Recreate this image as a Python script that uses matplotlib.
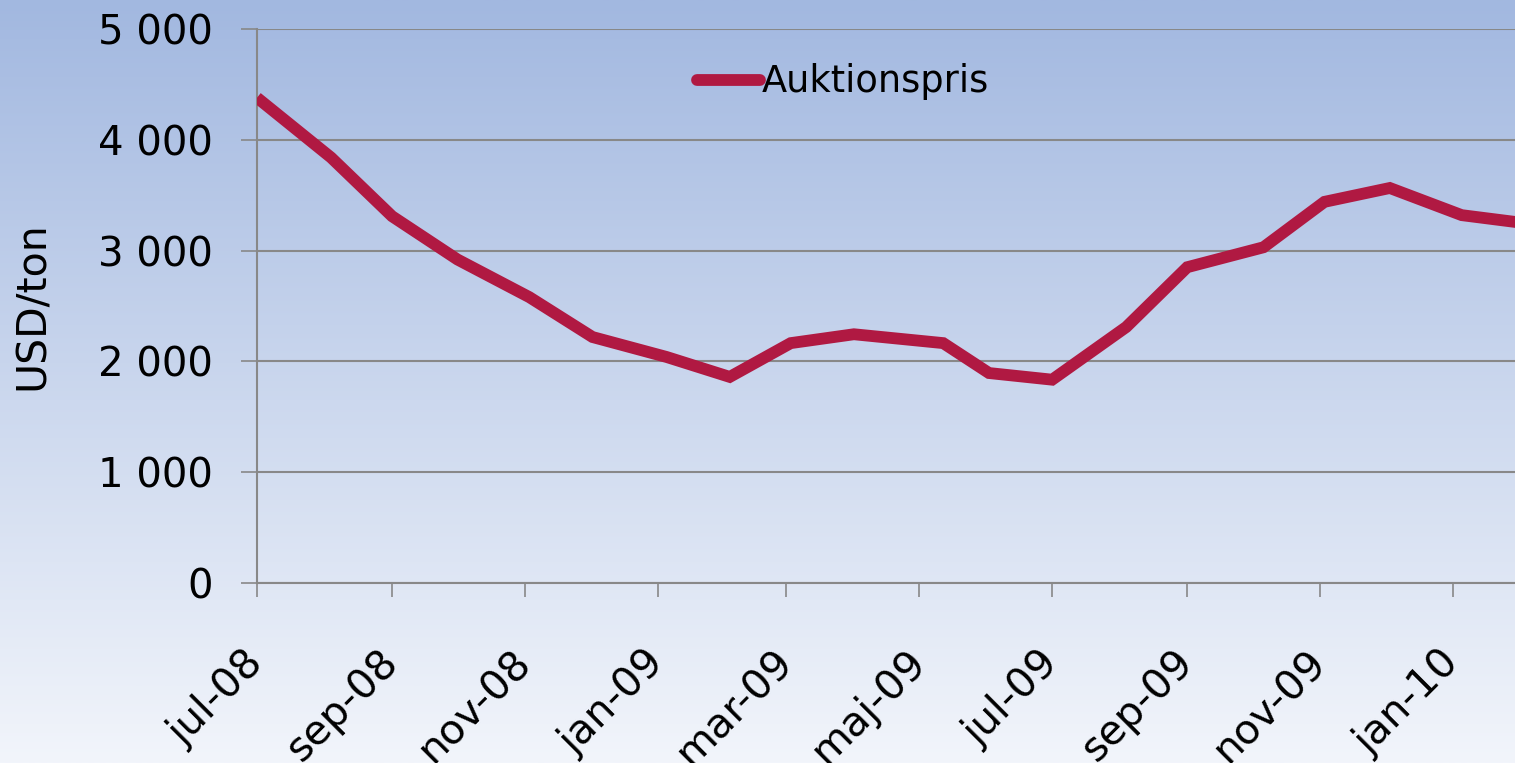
import matplotlib
matplotlib.use('Agg')
import matplotlib.pyplot as plt
import numpy as np
import datetime as dt

# auction dates and prices
dates = ['2008-07-01', '2008-08-04', '2008-09-01', '2008-10-01', '2008-11-03',
         '2008-12-02', '2009-01-05', '2009-02-03', '2009-03-03', '2009-04-01',
         '2009-05-12', '2009-06-02', '2009-07-01', '2009-08-04', '2009-09-01',
         '2009-10-06', '2009-11-03', '2009-12-03', '2010-01-05', '2010-02-02']
prices = [4380, 3840, 3310, 2920, 2580,
          2220, 2040, 1860, 2165, 2245,
          2165, 1895, 1835, 2310, 2850,
          3030, 3440, 3565, 3320, 3250]
tick_dates = ['2008-07-01', '2008-09-01', '2008-11-01', '2009-01-01', '2009-03-01',
              '2009-05-01', '2009-07-01', '2009-09-01', '2009-11-01', '2010-01-01']
tick_labels = ['jul-08', 'sep-08', 'nov-08', 'jan-09', 'mar-09',
               'maj-09', 'jul-09', 'sep-09', 'nov-09', 'jan-10']
yticks = [0, 1000, 2000, 3000, 4000, 5000]
ytick_labels = ['0', '1 000', '2 000', '3 000', '4 000', '5 000']

x = [dt.datetime.strptime(d, '%Y-%m-%d') for d in dates]
xt = [dt.datetime.strptime(d, '%Y-%m-%d') for d in tick_dates]

W, H = 1515, 763
fig = plt.figure(figsize=(W / 100, H / 100), dpi=100)

# vertical gradient background
bg = fig.add_axes([0, 0, 1, 1], zorder=-10)
top = np.array([162, 184, 224]) / 255
bot = np.array([242, 245, 251]) / 255
t = np.linspace(0, 1, 256)[:, None]
grad = (top[None, :] * (1 - t) + bot[None, :] * t)[:, None, :]
bg.imshow(grad, aspect='auto', extent=[0, 1, 0, 1])
bg.axis('off')

left, right = 257 / W, 1.0
bottom, topy = 1 - 583 / H, 1 - 29 / H
ax = fig.add_axes([left, bottom, right - left, topy - bottom])
ax.set_facecolor('none')

line, = ax.plot(x, prices, color='#b01942', lw=8.5, solid_joinstyle='miter',
                solid_capstyle='butt', label='Auktionspris', zorder=3)

ax.set_ylim(0, 5000)
x0 = dt.datetime(2008, 7, 1)
x1 = x0 + dt.timedelta(days=(1515 - 257) / 2.1785)
ax.set_xlim(x0, x1)

ax.set_yticks(yticks)
ax.set_yticklabels(ytick_labels)
ax.set_xticks(xt)
ax.set_xticklabels(tick_labels, rotation=45, ha='right', va='center',
                   rotation_mode='anchor')

gray = '#888888'
ax.grid(axis='y', color=gray, lw=1.5)
ax.set_axisbelow(True)
for s in ['top', 'right']:
    ax.spines[s].set_visible(False)
for s in ['left', 'bottom']:
    ax.spines[s].set_color(gray)
    ax.spines[s].set_linewidth(1.5)

ax.tick_params(axis='y', length=11.5, width=1.2, color=gray, pad=20, labelsize=29)
ax.tick_params(axis='x', length=10, width=1.2, color=gray, pad=43, labelsize=29.5)

fig.text(33 / W, 1 - 306 / H, 'USD/ton', rotation=90, va='center', ha='center',
         fontsize=29.5)

leg = ax.legend(loc='center left', bbox_to_anchor=(697 / W, 1 - 82 / H),
                bbox_transform=fig.transFigure, frameon=False, borderpad=0,
                borderaxespad=0, handlelength=1.7, handletextpad=0.05,
                fontsize=26.5)
for l in leg.get_lines():
    l.set_solid_capstyle('round')

fig.savefig('out.png', dpi=100)
